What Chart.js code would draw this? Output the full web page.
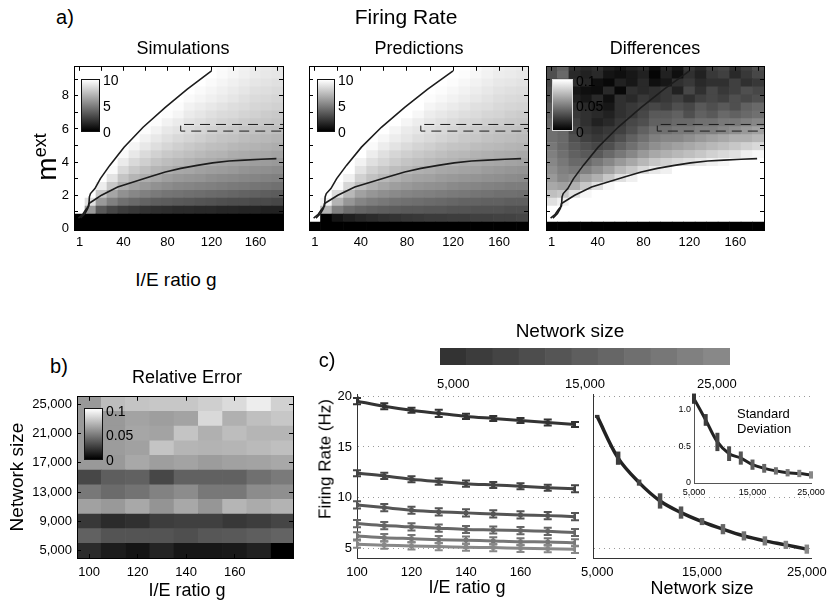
<!DOCTYPE html>
<html>
<head>
<meta charset="utf-8">
<title>Firing Rate</title>
<script src="https://cdn.jsdelivr.net/npm/chart.js@4.4.1/dist/chart.umd.min.js"></script>
<style>
  body { margin: 0; background: #fff; }
  #fig { position: relative; width: 830px; height: 602px; overflow: hidden;
         font-family: "Liberation Sans", Arial, sans-serif; color: #000; }
  #fig canvas { position: absolute; }
  .lbl { position: absolute; white-space: nowrap; line-height: 1; }
  .cbar { position: absolute; box-sizing: border-box; border: 1px solid #111;
          background: linear-gradient(#fff, #000); }
</style>
</head>
<body>
<div id="fig"></div>
<script>
// ---------- panel a: firing rate maps ----------
const gCols = [0, 10, 20, 30, 40, 50, 60, 70, 80, 90, 100, 110, 120, 130, 140, 150, 160, 170, 180];
const mRows = [0.14, 0.62, 1.10, 1.58, 2.06, 2.54, 3.02, 3.50, 3.98, 4.46, 4.94,
               5.42, 5.90, 6.38, 6.86, 7.34, 7.82, 8.30, 8.78, 9.26, 9.74];
const gTicks = [0, 20, 40, 60, 80, 100, 120, 140, 160, 180];
const gLabelAt = [0, 40, 80, 120, 160];
const gLabelText = ['1', '40', '80', '120', '160'];
const mTicks = [0, 1, 2, 3, 4, 5, 6, 7, 8, 9];
const mLabelAt = [0, 2, 4, 6, 8];

// simulated rate (Hz), rows bottom -> top
const simRate = [
  [0,0,0,0,0,0,0,0,0,0,0,0,0,0,0,0,0,0,0],
  [0,0,0,0,0,0,0,0,0,0,0,0,0,0,0,0,0,0,0],
  [10,6.0,3.5,2.8,2.4,2.2,2.0,1.9,1.8,1.7,1.7,1.6,1.6,1.5,1.5,1.4,1.4,1.3,1.3],
  [10,8.8,6.0,5.0,4.4,4.1,3.9,3.7,3.6,3.5,3.4,3.3,3.2,3.1,3.0,3.0,2.9,2.9,2.8],
  [10,10,7.8,6.5,5.7,5.3,5.0,4.8,4.6,4.5,4.4,4.3,4.2,4.1,4.0,3.9,3.8,3.7,3.6],
  [10,10,9.3,7.8,6.8,6.3,6.0,5.7,5.5,5.3,5.2,5.1,5.0,4.9,4.8,4.7,4.6,4.5,4.4],
  [10,10,10,8.9,7.7,7.1,6.8,6.5,6.2,6.0,5.9,5.8,5.6,5.5,5.4,5.3,5.2,5.1,5.0],
  [10,10,10,9.8,8.5,7.9,7.5,7.1,6.9,6.6,6.5,6.3,6.2,6.1,6.0,5.8,5.7,5.6,5.5],
  [10,10,10,10,9.2,8.5,8.1,7.7,7.4,7.2,7.0,6.8,6.7,6.5,6.4,6.3,6.2,6.1,6.0],
  [10,10,10,10,9.8,9.1,8.6,8.2,7.9,7.7,7.5,7.3,7.1,7.0,6.8,6.7,6.6,6.5,6.4],
  [10,10,10,10,10,9.6,9.1,8.7,8.4,8.1,7.9,7.7,7.5,7.4,7.2,7.1,7.0,6.9,6.8],
  [10,10,10,10,10,10,9.5,9.1,8.8,8.5,8.3,8.1,7.9,7.7,7.6,7.4,7.3,7.2,7.1],
  [10,10,10,10,10,10,9.9,9.5,9.1,8.9,8.6,8.4,8.2,8.0,7.9,7.7,7.6,7.5,7.4],
  [10,10,10,10,10,10,10,9.9,9.5,9.2,8.9,8.7,8.5,8.3,8.2,8.0,7.9,7.8,7.7],
  [10,10,10,10,10,10,10,10,9.9,9.6,9.2,9.0,8.8,8.6,8.5,8.3,8.2,8.0,7.9],
  [10,10,10,10,10,10,10,10,10,9.9,9.5,9.3,9.1,8.9,8.7,8.6,8.4,8.3,8.2],
  [10,10,10,10,10,10,10,10,10,10,9.8,9.6,9.4,9.2,9.0,8.8,8.6,8.5,8.4],
  [10,10,10,10,10,10,10,10,10,10,10,9.8,9.6,9.4,9.2,9.0,8.8,8.7,8.6],
  [10,10,10,10,10,10,10,10,10,10,10,10,9.8,9.6,9.4,9.2,9.0,8.9,8.8],
  [10,10,10,10,10,10,10,10,10,10,10,10,10,9.8,9.6,9.4,9.2,9.1,9.0],
  [10,10,10,10,10,10,10,10,10,10,10,10,10,9.9,9.7,9.5,9.3,9.2,9.1]
];

// predicted rate (Hz), rows bottom -> top
const predRate = [
  [0,0,0,0,0,0,0,0,0,0,0,0,0,0,0,0,0,0,0],
  [10,0,0.8,1.2,1.5,1.7,1.9,2.0,2.1,2.2,2.3,2.3,2.4,2.4,2.5,2.5,2.6,2.6,2.7],
  [10,7.0,5.0,4.3,4.0,3.8,3.7,3.6,3.5,3.5,3.4,3.4,3.3,3.3,3.2,3.2,3.2,3.1,3.1],
  [10,9.5,7.0,5.9,5.2,4.9,4.7,4.5,4.4,4.3,4.2,4.1,4.0,3.9,3.9,3.8,3.8,3.7,3.7],
  [10,10,8.6,7.2,6.3,5.9,5.6,5.4,5.2,5.1,5.0,4.9,4.8,4.7,4.6,4.5,4.4,4.4,4.3],
  [10,10,9.8,8.4,7.4,6.9,6.5,6.2,6.0,5.8,5.7,5.6,5.4,5.3,5.2,5.1,5.0,4.9,4.9],
  [10,10,10,9.4,8.2,7.6,7.2,6.9,6.6,6.4,6.3,6.1,6.0,5.9,5.8,5.7,5.6,5.5,5.4],
  [10,10,10,10,8.9,8.2,7.8,7.4,7.2,6.9,6.8,6.6,6.5,6.4,6.3,6.1,6.0,5.9,5.8],
  [10,10,10,10,9.5,8.8,8.4,8.0,7.7,7.5,7.3,7.1,7.0,6.8,6.7,6.6,6.5,6.4,6.3],
  [10,10,10,10,10,9.3,8.8,8.4,8.1,7.9,7.7,7.5,7.3,7.2,7.0,6.9,6.8,6.7,6.6],
  [10,10,10,10,10,9.8,9.3,8.9,8.6,8.3,8.1,7.9,7.7,7.6,7.4,7.3,7.2,7.1,7.0],
  [10,10,10,10,10,10,9.7,9.3,9.0,8.7,8.5,8.3,8.1,7.9,7.8,7.6,7.5,7.4,7.3],
  [10,10,10,10,10,10,10,9.6,9.2,9.0,8.7,8.5,8.3,8.1,8.0,7.8,7.7,7.6,7.5],
  [10,10,10,10,10,10,10,10,9.6,9.3,9.0,8.8,8.6,8.4,8.3,8.1,8.0,7.9,7.8],
  [10,10,10,10,10,10,10,10,10,9.7,9.3,9.1,8.9,8.7,8.6,8.4,8.3,8.1,8.0],
  [10,10,10,10,10,10,10,10,10,10,9.6,9.4,9.2,9.0,8.8,8.7,8.5,8.4,8.3],
  [10,10,10,10,10,10,10,10,10,10,9.9,9.7,9.5,9.3,9.1,8.9,8.7,8.6,8.5],
  [10,10,10,10,10,10,10,10,10,10,10,9.9,9.7,9.5,9.3,9.1,8.9,8.8,8.7],
  [10,10,10,10,10,10,10,10,10,10,10,10,9.9,9.7,9.5,9.3,9.1,9.0,8.9],
  [10,10,10,10,10,10,10,10,10,10,10,10,10,9.9,9.7,9.5,9.3,9.2,9.1],
  [10,10,10,10,10,10,10,10,10,10,10,10,10,10,9.8,9.6,9.4,9.3,9.2]
];

// relative difference, rows bottom -> top (>= 0.1 saturates)
const diffRate = [
  [0,0,0,0,0,0,0,0,0,0,0,0,0,0,0,0,0,0,0],
  [0.12,0.12,0.12,0.12,0.12,0.12,0.12,0.12,0.12,0.12,0.12,0.12,0.12,0.12,0.12,0.12,0.12,0.12,0.12],
  [0.12,0.12,0.12,0.12,0.12,0.12,0.12,0.12,0.12,0.12,0.12,0.12,0.12,0.12,0.12,0.12,0.12,0.12,0.12],
  [0.088,0.094,0.12,0.12,0.12,0.12,0.12,0.12,0.12,0.12,0.12,0.12,0.12,0.12,0.12,0.12,0.12,0.12,0.12],
  [0.075,0.078,0.088,0.097,0.12,0.12,0.12,0.12,0.12,0.12,0.12,0.12,0.12,0.12,0.12,0.12,0.12,0.12,0.12],
  [0.066,0.063,0.069,0.078,0.088,0.097,0.12,0.12,0.12,0.12,0.12,0.12,0.12,0.12,0.12,0.12,0.12,0.12,0.12],
  [0.060,0.053,0.056,0.063,0.069,0.078,0.088,0.094,0.12,0.12,0.12,0.12,0.12,0.12,0.12,0.12,0.12,0.12,0.12],
  [0.056,0.050,0.047,0.050,0.056,0.063,0.072,0.078,0.085,0.091,0.094,0.12,0.12,0.12,0.12,0.12,0.12,0.12,0.12],
  [0.053,0.047,0.041,0.041,0.047,0.053,0.060,0.066,0.072,0.078,0.082,0.085,0.088,0.091,0.094,0.097,0.12,0.12,0.12],
  [0.050,0.044,0.038,0.035,0.035,0.041,0.047,0.053,0.060,0.066,0.069,0.072,0.075,0.078,0.082,0.085,0.088,0.094,0.097],
  [0.047,0.041,0.035,0.031,0.028,0.031,0.038,0.044,0.050,0.056,0.060,0.063,0.066,0.069,0.072,0.075,0.078,0.082,0.085],
  [0.044,0.041,0.031,0.025,0.022,0.025,0.031,0.038,0.044,0.050,0.053,0.053,0.056,0.060,0.063,0.066,0.069,0.069,0.072],
  [0.044,0.041,0.028,0.022,0.019,0.022,0.025,0.031,0.038,0.044,0.044,0.047,0.047,0.050,0.050,0.053,0.056,0.060,0.063],
  [0.041,0.038,0.025,0.019,0.013,0.016,0.022,0.028,0.031,0.038,0.038,0.041,0.041,0.044,0.044,0.047,0.047,0.050,0.053],
  [0.038,0.035,0.022,0.019,0.016,0.013,0.019,0.022,0.028,0.035,0.035,0.038,0.031,0.038,0.035,0.041,0.038,0.041,0.044],
  [0.035,0.031,0.019,0.016,0.013,0.009,0.019,0.022,0.025,0.028,0.025,0.031,0.028,0.035,0.031,0.035,0.031,0.038,0.041],
  [0.031,0.028,0.013,0.009,0.016,0.006,0.019,0.016,0.022,0.019,0.022,0.025,0.019,0.025,0.028,0.025,0.031,0.028,0.031],
  [0.030,0.028,0.009,0.006,0.005,0.016,0.003,0.019,0.016,0.019,0.022,0.013,0.028,0.019,0.028,0.022,0.025,0.031,0.028],
  [0.028,0.031,0.019,0.015,0.006,0.003,0.013,0.009,0.016,0.006,0.009,0.019,0.022,0.016,0.019,0.019,0.025,0.019,0.022],
  [0.031,0.041,0.016,0.013,0.016,0.008,0.006,0.009,0.013,0.002,0.013,0.006,0.019,0.013,0.022,0.025,0.016,0.022,0.028],
  [0.031,0.038,0.019,0.016,0.019,0.012,0.009,0.013,0.016,0.005,0.016,0.009,0.022,0.016,0.025,0.028,0.019,0.025,0.031]
];

// regime boundaries and the marked strip
const upperG = [-1, 3, 6, 8.5, 9, 10, 14, 19, 27.5, 40.5, 57.8, 78, 98, 120];
const upperM = [0.62, 0.85, 1.15, 1.35, 1.9, 2.1, 2.4, 3.0, 3.8, 4.9, 6.1, 7.3, 8.4, 9.5];
const lowerG = [1, 5, 7.5, 8.5, 12, 20, 34.7, 49, 64, 78, 92, 107, 121, 136, 150, 165, 179];
const lowerM = [0.62, 0.9, 1.2, 1.5, 1.65, 2.0, 2.5, 2.8, 3.12, 3.4, 3.62, 3.8, 3.95, 4.06, 4.12, 4.17, 4.21];
const stripTopG = [95, 185], stripTopM = [6.27, 6.27];
const stripLowG = [92, 92, 185], stripLowM = [6.2, 5.87, 5.87];

// ---------- panel b: relative error ----------
const gB = [100, 110, 120, 130, 140, 150, 160, 170, 180];
const netSizes = [5000, 7000, 9000, 11000, 13000, 15000, 17000, 19000, 21000, 23000, 25000];
const relError = [
  [0.017,0.011,0.008,0.014,0.009,0.009,0.010,0.013,0.000],
  [0.038,0.033,0.033,0.033,0.031,0.034,0.035,0.037,0.039],
  [0.022,0.017,0.019,0.024,0.025,0.025,0.022,0.024,0.027],
  [0.063,0.060,0.066,0.058,0.066,0.059,0.071,0.067,0.070],
  [0.047,0.042,0.045,0.051,0.055,0.047,0.047,0.055,0.056],
  [0.028,0.037,0.038,0.028,0.038,0.038,0.038,0.044,0.048],
  [0.060,0.060,0.066,0.062,0.064,0.061,0.063,0.064,0.066],
  [0.060,0.061,0.063,0.077,0.071,0.070,0.071,0.073,0.075],
  [0.060,0.060,0.065,0.064,0.077,0.069,0.074,0.071,0.071],
  [0.060,0.060,0.064,0.062,0.064,0.085,0.069,0.075,0.078],
  [0.060,0.074,0.077,0.078,0.078,0.081,0.086,0.093,0.082]
];
const gBTicks = [100, 120, 140, 160];
const nBTicks = [5000, 9000, 13000, 17000, 21000, 25000];

// ---------- panel c: rate vs g and vs network size ----------
const gC = [100, 110, 120, 130, 140, 150, 160, 170, 180];
const rateBySize = [   // N = 5000, 9000, 13000, 17000, 21000, 25000
  [19.5, 19.0, 18.6, 18.3, 18.0, 17.8, 17.6, 17.4, 17.2],
  [12.42, 12.16, 11.83, 11.6, 11.4, 11.27, 11.14, 11.0, 10.9],
  [9.31, 9.05, 8.79, 8.63, 8.53, 8.43, 8.33, 8.26, 8.16],
  [7.48, 7.28, 7.16, 7.03, 6.9, 6.85, 6.79, 6.72, 6.6],
  [6.27, 6.1, 6.0, 5.9, 5.85, 5.78, 5.7, 5.68, 5.6],
  [5.46, 5.36, 5.29, 5.22, 5.16, 5.12, 5.05, 5.02, 4.95]
];
const rateBySizeErr = [
  [0.3, 0.3, 0.25, 0.35, 0.25, 0.25, 0.25, 0.3, 0.25],
  [0.3, 0.3, 0.3, 0.3, 0.3, 0.3, 0.3, 0.3, 0.35],
  [0.35, 0.35, 0.35, 0.35, 0.35, 0.35, 0.35, 0.35, 0.35],
  [0.35, 0.35, 0.35, 0.35, 0.35, 0.35, 0.35, 0.35, 0.35],
  [0.35, 0.35, 0.35, 0.35, 0.35, 0.35, 0.35, 0.35, 0.35],
  [0.35, 0.35, 0.35, 0.35, 0.35, 0.35, 0.35, 0.35, 0.35]
];
const shownSizes = [0, 2, 4, 6, 8, 10];   // indexes into netSizes
const rateVsN = [18.0, 13.9, 11.5, 9.7, 8.56, 7.68, 6.93, 6.27, 5.78, 5.39, 4.97];
const rateVsNErr = [0.15, 0.65, 0.3, 0.75, 0.6, 0.35, 0.5, 0.45, 0.45, 0.4, 0.45];
const stdVsN = [1.15, 0.86, 0.56, 0.40, 0.34, 0.25, 0.20, 0.165, 0.14, 0.13, 0.11];
const stdVsNErr = [0.07, 0.08, 0.125, 0.1, 0.09, 0.07, 0.06, 0.05, 0.05, 0.05, 0.05];
const rateTicks = [5, 10, 15, 20];
const sizeTicks = [5000, 15000, 25000];
const stdTicks = [0, 0.5, 1.0];
const stdTickText = ['0', '0.5', '1.0'];

// ---------- helpers ----------
const fig = document.getElementById('fig');
Chart.defaults.font.family = '"Liberation Sans", Arial, sans-serif';
Chart.defaults.font.size = 13;
Chart.defaults.color = '#000';
Chart.defaults.animation = false;
Chart.defaults.responsive = false;
Chart.defaults.devicePixelRatio = 1;
Chart.defaults.plugins.legend.display = false;
Chart.defaults.plugins.tooltip.enabled = false;

const grayOf = f => {
  const l = Math.round(Math.max(0, Math.min(1, f)) * 255);
  return `rgb(${l},${l},${l})`;
};
const netShades = netSizes.map((_, i) => {
  const l = Math.round(0x33 + i * 8.5);
  return `rgb(${l},${l},${l})`;
});
const fmt = v => v.toLocaleString('en-US');

function canvasAt(x, y, w, h) {
  const c = document.createElement('canvas');
  c.width = w; c.height = h;
  Object.assign(c.style, { left: x + 'px', top: y + 'px', width: w + 'px', height: h + 'px' });
  fig.appendChild(c);
  return c;
}

function label(html, x, y, size, opt = {}) {
  const d = document.createElement('div');
  d.className = 'lbl';
  d.innerHTML = html;
  d.style.left = x + 'px';
  d.style.top = y + 'px';
  d.style.fontSize = size + 'px';
  const ax = opt.align === 'left' ? '0' : opt.align === 'right' ? '-100%' : '-50%';
  d.style.transform = `translate(${ax}, -50%)` + (opt.rot ? ` rotate(${opt.rot}deg)` : '');
  fig.appendChild(d);
}

function colorbar(x, y, w, h, border, ticks) {
  const d = document.createElement('div');
  d.className = 'cbar';
  Object.assign(d.style, { left: x + 'px', top: y + 'px', width: w + 'px', height: h + 'px', borderColor: border });
  fig.appendChild(d);
  ticks.forEach(([t, ty]) => label(t, x + w + 3, ty, 14, { align: 'left' }));
}

const fixed = v => (s => { if (s.isHorizontal()) s.height = v; else s.width = v; });
const pickTicks = vals => (s => { s.ticks = vals.map(v => ({ value: v })); });
const innerGrid = () => ({ display: true, drawOnChartArea: false, drawTicks: true, tickLength: -4,
                           color: '#000', offset: false, z: 2 });
const frame = () => ({ display: true, color: '#000', width: 1, z: 2 });
const noGrid = () => ({ display: false, drawTicks: false });

// whiskers drawn on top of the lines, using the chart's own y scale
const errorBars = {
  id: 'errorBars',
  afterDatasetsDraw(chart) {
    const ctx = chart.ctx, ys = chart.scales.y;
    chart.data.datasets.forEach((ds, i) => {
      if (!ds.errors) return;
      const meta = chart.getDatasetMeta(i);
      ctx.save();
      ctx.lineWidth = ds.errWidth;
      ds.data.forEach((p, j) => {
        const el = meta.data[j];
        const top = ys.getPixelForValue(p.y + ds.errors[j]);
        const bot = ys.getPixelForValue(p.y - ds.errors[j]);
        ctx.strokeStyle = Array.isArray(ds.errColor) ? ds.errColor[j] : ds.errColor;
        ctx.beginPath();
        ctx.moveTo(el.x, top); ctx.lineTo(el.x, bot);
        if (ds.capWidth) {
          const c = ds.capWidth / 2;
          ctx.moveTo(el.x - c, top); ctx.lineTo(el.x + c, top);
          ctx.moveTo(el.x - c, bot); ctx.lineTo(el.x + c, bot);
        }
        ctx.stroke();
      });
      ctx.restore();
    });
  }
};

// heat map: one floating-bar dataset per row, cells coloured through the gray map
function heatChart(cv, o) {
  const cells = o.rows.map((r, k) => ({
    type: 'bar',
    data: o.cols.map(c => ({ x: c, y: [r - o.rowStep / 2, r + o.rowStep / 2] })),
    backgroundColor: o.values[k].map(v => grayOf(v / o.vmax)),
    borderWidth: 0, grouped: false, barPercentage: 1, categoryPercentage: 1, order: 3
  }));
  return new Chart(cv, {
    type: 'bar',
    data: { datasets: cells.concat(o.lines || []) },
    options: {
      layout: { padding: { top: o.padT, right: o.padR, left: 0, bottom: 0 } },
      scales: {
        x: { type: 'linear', offset: false, min: o.xMin, max: o.xMax,
             grid: innerGrid(), border: frame(),
             afterBuildTicks: pickTicks(o.xTicks), afterFit: fixed(o.axisH),
             ticks: { padding: o.xPad || 9, maxRotation: 0, autoSkip: false, callback: o.xLabel } },
        xt: { type: 'linear', position: 'top', offset: false, min: o.xMin, max: o.xMax,
              grid: innerGrid(), border: frame(), ticks: { display: false },
              afterBuildTicks: pickTicks(o.xTicks), afterFit: fixed(0) },
        y: { type: 'linear', min: o.yMin, max: o.yMax, grid: innerGrid(), border: frame(),
             afterBuildTicks: pickTicks(o.yTicks), afterFit: fixed(o.yW),
             ticks: { padding: 9, autoSkip: false, callback: o.yLabel } },
        yr: { type: 'linear', position: 'right', min: o.yMin, max: o.yMax,
              grid: innerGrid(), border: frame(), ticks: { display: false },
              afterBuildTicks: pickTicks(o.yTicks), afterFit: fixed(0) }
      }
    }
  });
}

const traced = (xs, ys, dash) => ({
  type: 'line', data: xs.map((x, i) => ({ x, y: ys[i] })),
  borderColor: '#1c1c1c', borderWidth: 1.6, borderDash: dash || [],
  pointRadius: 0, tension: 0, fill: false, order: 1
});
const boundaryLines = () => [
  traced(upperG, upperM), traced(lowerG, lowerM),
  Object.assign(traced(stripTopG, stripTopM, [10, 6]), { borderWidth: 1 }),
  Object.assign(traced(stripLowG, stripLowM, [10, 6]), { borderWidth: 1 })
];
const gLabel = v => { const i = gLabelAt.indexOf(v); return i < 0 ? '' : gLabelText[i]; };
const mapBase = {
  cols: gCols, rows: mRows, rowStep: 0.48, xMin: -5, xMax: 185, yMin: -0.1, yMax: 9.75,
  xTicks: gTicks, yTicks: mTicks, xLabel: gLabel, padT: 16, axisH: 35
};

heatChart(canvasAt(0, 50, 300, 215), Object.assign({}, mapBase, {
  values: simRate, vmax: 10, yW: 74, padR: 17, lines: boundaryLines(),
  yLabel: v => mLabelAt.includes(v) ? String(v) : ''
}));
heatChart(canvasAt(290, 50, 250, 215), Object.assign({}, mapBase, {
  values: predRate, vmax: 10, yW: 19, padR: 12, lines: boundaryLines(), yLabel: () => ''
}));
heatChart(canvasAt(530, 50, 250, 215), Object.assign({}, mapBase, {
  values: diffRate, vmax: 0.1, yW: 16, padR: 16, lines: boundaryLines(), yLabel: () => ''
}));

// panel b
heatChart(canvasAt(0, 380, 310, 205), {
  cols: gB, rows: netSizes, rowStep: 2000, values: relError, vmax: 0.1,
  xMin: 95, xMax: 184, yMin: 4000, yMax: 26000, xTicks: gBTicks, yTicks: nBTicks,
  xLabel: v => String(v), yLabel: v => fmt(v), xPad: 11,
  yW: 77, padT: 15, padR: 17, axisH: 27
});

// panel c, left: rate against g for every other network size
new Chart(canvasAt(300, 380, 285, 205), {
  type: 'line',
  data: {
    datasets: shownSizes.map((n, i) => ({
      data: gC.map((g, j) => ({ x: g, y: rateBySize[i][j] })),
      borderColor: netShades[n], backgroundColor: netShades[n], borderWidth: 3,
      pointStyle: 'rect', pointRadius: 3, pointBorderWidth: 0, tension: 0.3,
      errors: rateBySizeErr[i], errColor: netShades[n], errWidth: 2, capWidth: 8
    }))
  },
  options: {
    layout: { padding: { top: 14, right: 10, left: 0, bottom: 0 } },
    scales: {
      x: { type: 'linear', min: 100, max: 180, grid: noGrid(),
           border: { color: '#333' }, afterBuildTicks: pickTicks(gBTicks), afterFit: fixed(27),
           ticks: { padding: 7, maxRotation: 0, autoSkip: false } },
      y: { min: 4.1, max: 20.2, afterBuildTicks: pickTicks(rateTicks), afterFit: fixed(57),
           grid: { color: '#9a9a9a', drawTicks: false }, border: { color: '#333', dash: [1, 4] },
           ticks: { padding: 5 } }
    }
  },
  plugins: [errorBars]
});

// panel c, right: rate against network size
new Chart(canvasAt(560, 380, 275, 205), {
  type: 'line',
  data: {
    datasets: [{
      data: netSizes.map((n, i) => ({ x: n, y: rateVsN[i] })),
      borderColor: '#222', borderWidth: 3.5, pointRadius: 0, tension: 0.35,
      errors: rateVsNErr, errColor: netShades, errWidth: 4.5
    }]
  },
  options: {
    layout: { padding: { top: 14, right: 24, left: 0, bottom: 0 } },
    scales: {
      x: { type: 'linear', min: 4600, max: 25400, grid: noGrid(),
           border: { color: '#333' }, afterBuildTicks: pickTicks(sizeTicks), afterFit: fixed(27),
           ticks: { padding: 7, maxRotation: 0, autoSkip: false, callback: v => fmt(v) } },
      y: { min: 4.1, max: 20.2, afterBuildTicks: pickTicks(rateTicks), afterFit: fixed(33),
           grid: { color: '#9a9a9a', drawTicks: false }, border: { color: '#333', dash: [1, 4] },
           ticks: { display: false } }
    }
  },
  plugins: [errorBars]
});

// inset: standard deviation against network size
new Chart(canvasAt(650, 385, 180, 120), {
  type: 'line',
  data: {
    datasets: [{
      data: netSizes.map((n, i) => ({ x: n, y: stdVsN[i] })),
      borderColor: '#222', borderWidth: 3, pointRadius: 0, tension: 0.35,
      errors: stdVsNErr, errColor: netShades, errWidth: 4
    }]
  },
  options: {
    layout: { padding: { top: 10, right: 19, left: 0, bottom: 0 } },
    scales: {
      x: { type: 'linear', min: 5000, max: 25000, grid: noGrid(),
           border: { color: '#555' }, afterBuildTicks: pickTicks(sizeTicks), afterFit: fixed(22),
           ticks: { padding: 4, maxRotation: 0, autoSkip: false, font: { size: 9 }, callback: v => fmt(v) } },
      y: { min: 0, max: 1.2, grid: noGrid(), border: { color: '#555' },
           afterBuildTicks: pickTicks(stdTicks), afterFit: fixed(44),
           ticks: { padding: 3, font: { size: 9 }, callback: v => stdTickText[stdTicks.indexOf(v)] } }
    }
  },
  plugins: [errorBars]
});

// network size colour key
new Chart(canvasAt(420, 340, 330, 55), {
  type: 'bar',
  data: {
    labels: netSizes,
    datasets: [{ data: netSizes.map(() => 1), backgroundColor: netShades,
                 borderWidth: 0, barPercentage: 1, categoryPercentage: 1 }]
  },
  options: {
    layout: { padding: { top: 8, right: 20, left: 20, bottom: 0 } },
    scales: {
      x: { grid: noGrid(), border: { display: false }, afterFit: fixed(30),
           ticks: { padding: 12, maxRotation: 0, autoSkip: false,
                    callback: (v, i) => sizeTicks.includes(netSizes[i]) ? fmt(netSizes[i]) : '' } },
      y: { display: false, min: 0, max: 1 }
    }
  }
});

// ---------- text and colour keys ----------
label('a)', 65, 17, 20);
label('Firing Rate', 406, 16, 21);
label('Simulations', 183, 48, 18);
label('Predictions', 419, 48, 18);
label('Differences', 655, 48, 18);
label('m<sup style="font-size:18px">ext</sup>', 46, 157, 28, { rot: -90 });
label('I/E ratio g', 176, 279, 19);
colorbar(81, 79, 19, 53, '#111', [['10', 80], ['5', 106], ['0', 132]]);
colorbar(317, 79, 18, 53, '#111', [['10', 80], ['5', 106], ['0', 132]]);
colorbar(552, 79, 21, 52, '#ddd', [['0.1', 81], ['0.05', 106], ['0', 132]]);

label('b)', 59, 366, 20);
label('Relative Error', 187, 377, 18);
label('Network size', 16, 477, 19, { rot: -90 });
label('I/E ratio g', 187, 590, 18);
colorbar(84, 408, 19, 52, '#111', [['0.1', 411], ['0.05', 435], ['0', 460]]);

label('c)', 327, 360, 20);
label('Network size', 570, 330, 19);
label('Firing Rate (Hz)', 325, 459, 17, { rot: -90 });
label('I/E ratio g', 467, 587, 18);
label('Network size', 702, 588, 18);
label('Standard', 737, 413, 13, { align: 'left' });
label('Deviation', 737, 428, 13, { align: 'left' });
</script>
</body>
</html>
